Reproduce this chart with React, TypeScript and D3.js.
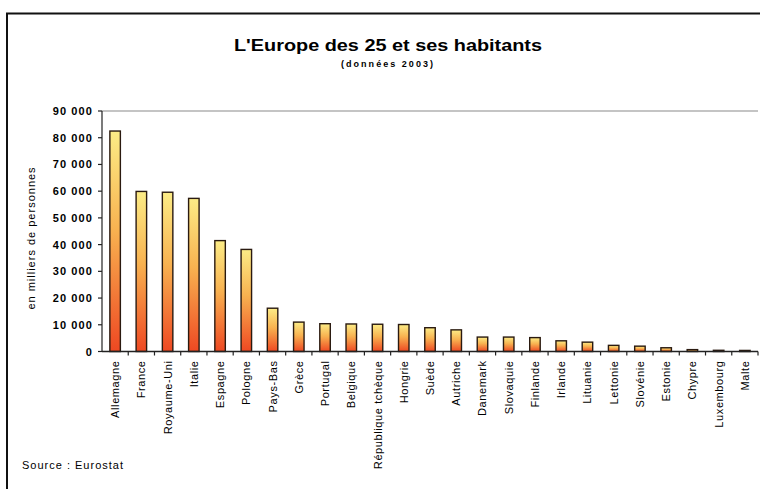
import React from "react";
import * as d3 from "d3";

const categories = [
  "Allemagne", "France", "Royaume-Uni", "Italie", "Espagne", "Pologne", "Pays-Bas", "Grèce",
  "Portugal", "Belgique", "République tchèque", "Hongrie", "Suède", "Autriche", "Danemark",
  "Slovaquie", "Finlande", "Irlande", "Lituanie", "Lettonie", "Slovénie", "Estonie", "Chypre",
  "Luxembourg", "Malte",
];
const population = [
  82500, 59900, 59600, 57300, 41500, 38200, 16200, 11000,
  10400, 10300, 10200, 10100, 8900, 8100, 5400,
  5400, 5200, 4000, 3500, 2300, 2000, 1400, 700,
  450, 400,
];
const yTicks = [0, 10000, 20000, 30000, 40000, 50000, 60000, 70000, 80000, 90000];
const title = "L'Europe des 25 et ses habitants";
const subtitle = "(données 2003)";
const yTitle = "en milliers de personnes";
const source = "Source : Eurostat";

const FONT = "'Liberation Sans', Arial, sans-serif";

export default function App() {
  const left = 102, right = 758, top = 111, bottom = 351.5;
  const x = d3.scaleBand<string>().domain(categories).range([left, right]).paddingInner(0).paddingOuter(0);
  const y = d3.scaleLinear().domain([0, 90000]).range([bottom, top]);
  const barW = 10.5;
  const fmt = (d: number) => (d === 0 ? "0" : `${d / 1000} 000`);

  return (
    <svg width={760} height={489} style={{ position: "absolute", left: 0, top: 0, background: "#fff" }} fontFamily={FONT}>
      <defs>
        <linearGradient id="barGrad" x1="0" y1="0" x2="0" y2="1">
          <stop offset="0%" stopColor="#fcec86" />
          <stop offset="45%" stopColor="#f8b250" />
          <stop offset="100%" stopColor="#ee4822" />
        </linearGradient>
      </defs>
      {/* outer frame */}
      <rect x={7} y={13.5} width={780} height={500} fill="none" stroke="#111" strokeWidth={2} />

      {/* titles */}
      <text x={388} y={51} textAnchor="middle" fontSize={16.5} fontWeight="bold" textLength={308} lengthAdjust="spacingAndGlyphs">{title}</text>
      <text x={387} y={67} textAnchor="middle" fontSize={9} fontWeight="bold" textLength={92} lengthAdjust="spacing">{subtitle}</text>

      {/* top grid line */}
      <line x1={left} x2={right} y1={y(90000)} y2={y(90000)} stroke="#8a8a8a" strokeWidth={1.2} />

      {/* bars */}
      {categories.map((c, i) => {
        const cx = (x(c) as number) + x.bandwidth() / 2;
        const yt = y(population[i]);
        return (
          <rect key={c} x={cx - barW / 2} y={yt} width={barW} height={Math.max(0, bottom - yt)}
            fill="url(#barGrad)" stroke="#2a1a10" strokeWidth={1.4} />
        );
      })}

      {/* y axis */}
      <line x1={left} x2={left} y1={top} y2={bottom} stroke="#222" strokeWidth={1.2} />
      {yTicks.map((t) => (
        <g key={t}>
          <line x1={left - 4} x2={left} y1={y(t)} y2={y(t)} stroke="#222" strokeWidth={1.2} />
          <text x={93} y={y(t) + 4} textAnchor="end" fontSize={11} fontWeight="bold" letterSpacing={1.1}>{fmt(t)}</text>
        </g>
      ))}
      <text transform={`translate(35,238) rotate(-90)`} textAnchor="middle" fontSize={11} letterSpacing={1}>{yTitle}</text>

      {/* x axis */}
      <line x1={left} x2={right} y1={bottom} y2={bottom} stroke="#222" strokeWidth={1.3} />
      {categories.map((c) => (
        <line key={"t" + c} x1={(x(c) as number) + x.bandwidth()} x2={(x(c) as number) + x.bandwidth()} y1={bottom} y2={bottom + 4} stroke="#222" strokeWidth={1.2} />
      ))}
      {categories.map((c) => {
        const cx = (x(c) as number) + x.bandwidth() / 2;
        return (
          <text key={"l" + c} transform={`translate(${cx + 4},${bottom + 9}) rotate(-90)`} textAnchor="end" fontSize={11} letterSpacing={0.6}>{c}</text>
        );
      })}

      <text x={22} y={469} fontSize={11} letterSpacing={1}>{source}</text>
    </svg>
  );
}
